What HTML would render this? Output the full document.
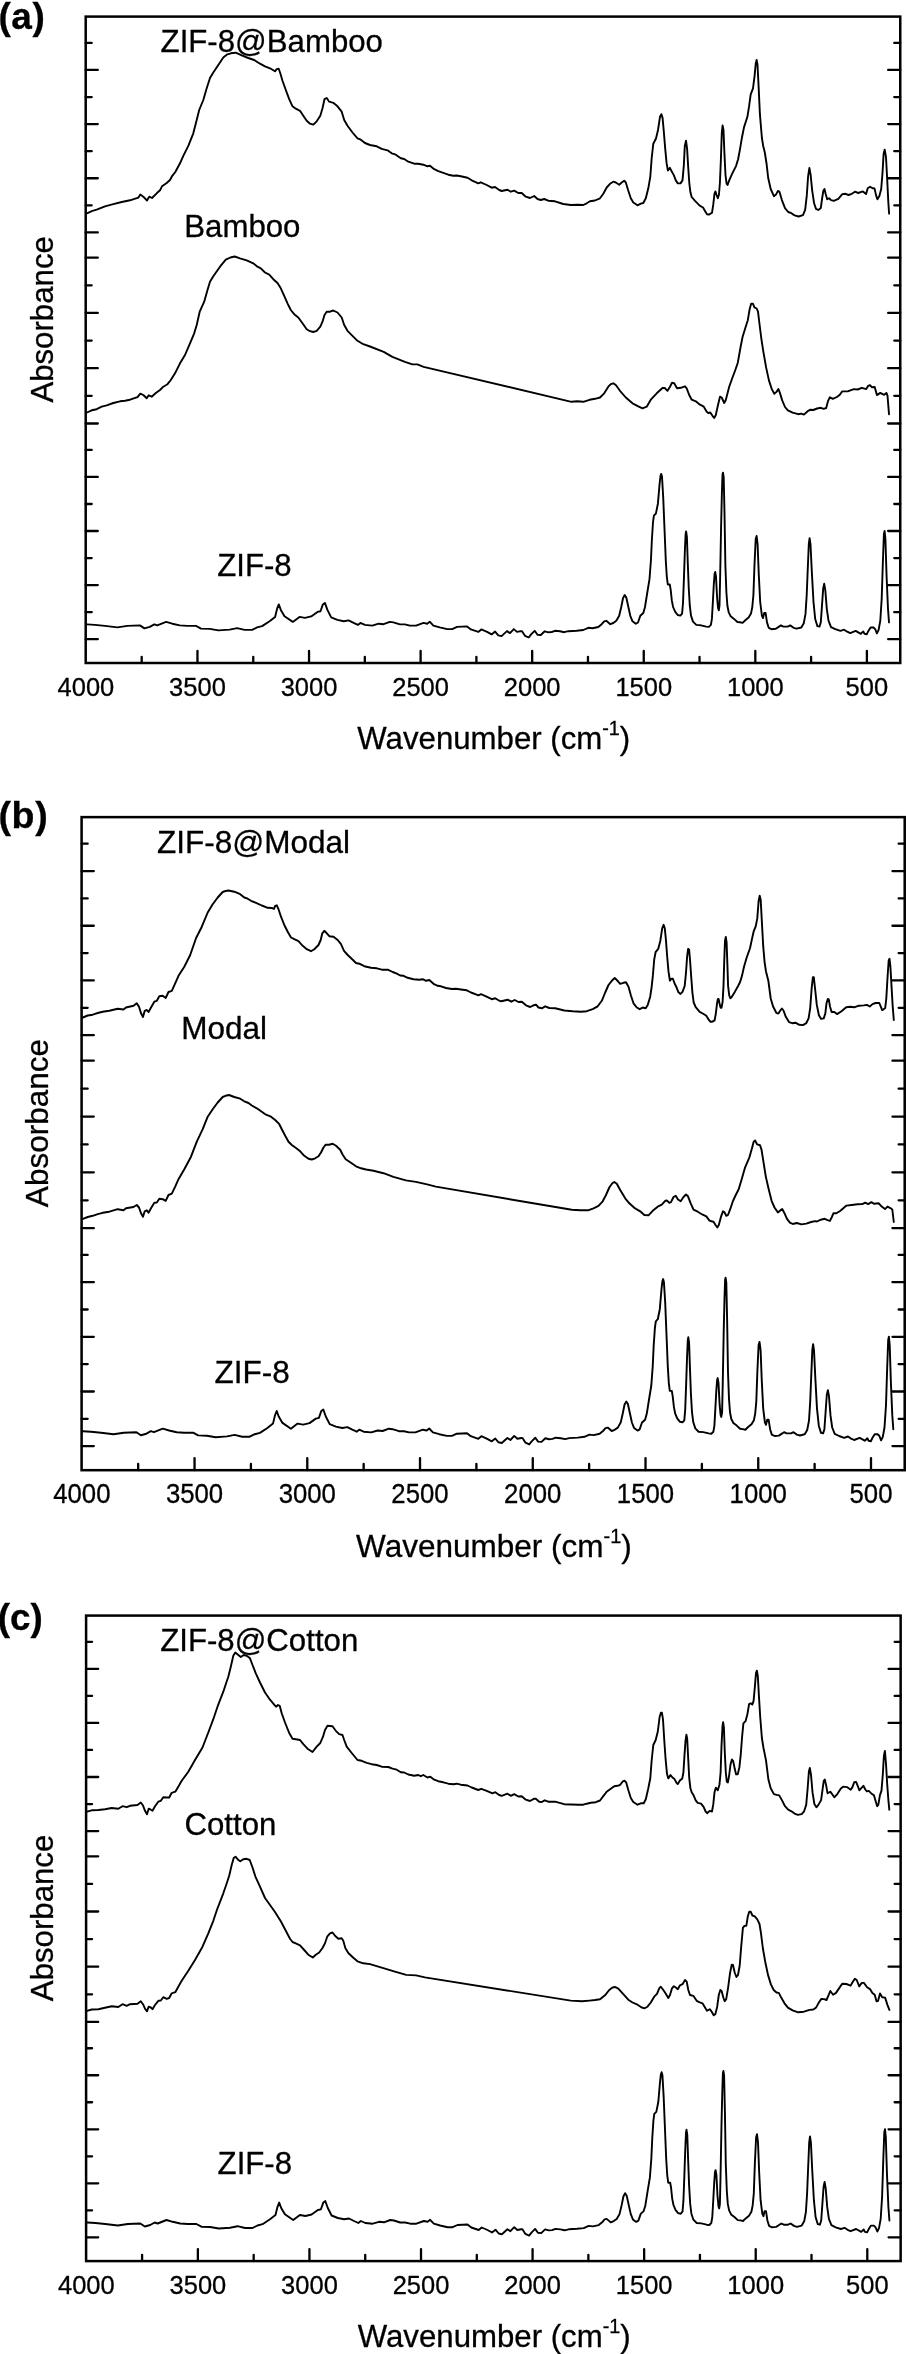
<!DOCTYPE html>
<html lang="en"><head><meta charset="utf-8"><title>FTIR spectra</title>
<style>html,body{margin:0;padding:0;background:#fff}body{width:906px;height:2354px;overflow:hidden}</style></head>
<body>
<svg width="906" height="2354" viewBox="0 0 906 2354" style="display:block;filter:grayscale(1);font-family:'Liberation Sans', Arial, Helvetica, sans-serif" fill="#000">
<rect width="906" height="2354" fill="#fff"/>
<style>text{stroke:#000;stroke-width:0.3px}</style>
<g><rect x="85.70" y="16.60" width="814.55" height="646.40" fill="none" stroke="#000" stroke-width="2.50"/>
<path d="M85.70 42.90h6.00M900.25 42.90h-6.00M85.70 69.97h12.10M900.25 69.97h-12.10M85.70 97.04h6.00M900.25 97.04h-6.00M85.70 124.11h12.10M900.25 124.11h-12.10M85.70 151.18h6.00M900.25 151.18h-6.00M85.70 178.25h12.10M900.25 178.25h-12.10M85.70 205.32h6.00M900.25 205.32h-6.00M85.70 232.39h12.10M900.25 232.39h-12.10M85.70 257.70h12.10M900.25 257.70h-12.10M85.70 285.33h6.00M900.25 285.33h-6.00M85.70 312.96h12.10M900.25 312.96h-12.10M85.70 340.59h6.00M900.25 340.59h-6.00M85.70 368.22h12.10M900.25 368.22h-12.10M85.70 395.85h6.00M900.25 395.85h-6.00M85.70 423.48h12.10M900.25 423.48h-12.10M85.70 449.90h6.00M900.25 449.90h-6.00M85.70 476.94h12.10M900.25 476.94h-12.10M85.70 503.98h6.00M900.25 503.98h-6.00M85.70 531.02h12.10M900.25 531.02h-12.10M85.70 558.06h6.00M900.25 558.06h-6.00M85.70 585.10h12.10M900.25 585.10h-12.10M85.70 612.14h6.00M900.25 612.14h-6.00M85.70 639.18h12.10M900.25 639.18h-12.10M141.69 663.00v-6.20M197.47 663.00v-12.00M253.25 663.00v-6.20M309.04 663.00v-12.00M364.82 663.00v-6.20M420.61 663.00v-12.00M476.39 663.00v-6.20M532.18 663.00v-12.00M587.96 663.00v-6.20M643.75 663.00v-12.00M699.53 663.00v-6.20M755.32 663.00v-12.00M811.10 663.00v-6.20M866.89 663.00v-12.00" stroke="#000" stroke-width="2.30" stroke-linecap="round" fill="none"/>
<text transform="translate(85.90 695.80) scale(1 1.045)" font-size="25.50" text-anchor="middle">4000</text>
<text transform="translate(197.47 695.80) scale(1 1.045)" font-size="25.50" text-anchor="middle">3500</text>
<text transform="translate(309.04 695.80) scale(1 1.045)" font-size="25.50" text-anchor="middle">3000</text>
<text transform="translate(420.61 695.80) scale(1 1.045)" font-size="25.50" text-anchor="middle">2500</text>
<text transform="translate(532.18 695.80) scale(1 1.045)" font-size="25.50" text-anchor="middle">2000</text>
<text transform="translate(643.75 695.80) scale(1 1.045)" font-size="25.50" text-anchor="middle">1500</text>
<text transform="translate(755.32 695.80) scale(1 1.045)" font-size="25.50" text-anchor="middle">1000</text>
<text transform="translate(866.89 695.80) scale(1 1.045)" font-size="25.50" text-anchor="middle">500</text>
<text x="493.80" y="749.00" font-size="31.20" text-anchor="middle">Wavenumber (cm<tspan font-size="19.75" dy="-14.35">-1</tspan><tspan dy="14.35">)</tspan></text>
<text transform="translate(52.80 319.40) rotate(-90)" font-size="31.20" text-anchor="middle">Absorbance</text>
<text x="-1.60" y="29.30" font-size="37.00" font-weight="bold" letter-spacing="0.6">(a)</text>
<text x="160.60" y="52.00" font-size="31.20">ZIF-8@Bamboo</text>
<text x="184.30" y="236.80" font-size="31.20">Bamboo</text>
<text x="217.20" y="576.30" font-size="31.20">ZIF-8</text>
<polyline points="87.0,213.3 91.7,211.2 96.7,209.7 105.0,206.3 113.3,204.2 121.7,202.0 130.0,200.3 138.3,197.7 140.3,194.5 143.3,196.7 147.0,200.5 149.2,196.7 152.0,198.0 156.7,193.3 160.0,190.3 162.0,186.3 166.7,183.0 170.0,180.0 171.7,176.7 175.3,172.0 180.0,163.3 183.3,155.8 188.3,145.8 193.3,133.3 196.7,120.0 199.2,110.0 203.3,100.0 206.7,88.3 210.0,78.0 213.3,72.5 218.3,65.0 223.3,57.5 226.7,54.7 230.8,53.3 235.8,52.7 241.7,55.3 248.3,58.0 254.2,60.0 260.0,63.7 265.0,66.3 270.0,68.3 275.0,71.3 276.7,69.2 278.7,68.7 280.3,73.3 282.5,80.8 285.8,90.0 289.2,99.2 292.5,106.3 295.8,108.7 300.0,110.8 303.3,115.8 306.7,120.8 310.0,123.7 313.3,124.7 316.7,121.3 320.3,115.8 322.5,108.3 324.5,99.2 326.7,98.0 329.2,101.7 333.3,102.8 337.5,106.3 341.7,111.7 344.2,120.0 347.5,125.8 352.5,132.5 357.5,138.3 360.8,139.7 365.0,143.0 370.0,145.0 376.7,146.3 381.7,148.8 387.5,150.3 391.7,153.3 395.0,154.3 400.8,158.3 404.2,159.0 408.3,161.7 414.2,163.7 418.3,163.7 423.3,164.7 427.5,166.3 430.0,165.8 434.2,169.2 438.3,171.2 443.3,172.8 448.3,174.7 453.3,175.8 456.7,175.5 460.8,176.3 467.5,177.7 471.7,180.3 478.3,183.3 480.8,182.3 486.7,185.0 491.7,187.7 495.0,187.0 499.2,190.0 501.7,191.0 507.5,189.7 510.8,191.7 514.2,190.7 518.3,193.0 521.7,193.0 525.8,196.7 530.0,198.0 534.2,196.0 537.5,199.0 540.8,200.0 544.2,199.0 548.3,200.7 555.0,201.3 563.3,204.0 570.8,205.0 577.5,204.8 583.3,205.0 586.7,203.3 590.0,201.3 595.0,200.5 600.0,198.3 603.3,193.7 606.7,187.5 610.0,183.8 613.3,181.7 615.8,182.5 619.2,184.7 621.7,182.5 624.2,180.7 625.8,182.5 628.3,190.8 630.8,198.3 633.3,202.5 637.5,205.3 640.8,203.7 643.3,203.0 645.8,198.3 648.3,188.3 650.3,176.7 651.7,158.0 653.3,143.7 656.0,138.5 658.0,130.0 660.0,116.8 661.4,114.2 662.6,118.1 663.9,132.7 665.2,148.6 666.6,163.2 667.9,170.5 669.9,167.8 671.9,171.8 673.8,175.1 675.8,180.4 677.8,183.4 680.5,183.4 682.5,180.4 683.8,165.8 684.8,146.0 686.0,140.7 687.1,148.6 688.1,165.8 689.3,183.0 690.4,192.3 691.7,197.0 695.0,200.9 699.7,205.6 703.0,207.5 705.0,210.9 707.0,214.2 708.9,214.6 712.0,212.8 713.3,204.2 714.5,193.6 715.4,191.4 716.6,195.0 717.8,198.3 718.9,195.0 719.9,183.0 720.9,159.2 721.8,132.7 722.6,125.4 723.5,130.1 724.4,152.6 725.5,175.1 726.6,183.7 727.6,185.0 729.2,180.4 732.1,173.8 736.1,165.8 738.1,159.2 740.1,148.6 742.1,136.7 744.0,127.4 747.4,116.8 749.1,106.2 750.7,94.3 753.0,88.3 754.6,75.8 755.7,63.8 756.6,59.9 757.5,64.5 758.6,86.4 759.9,114.2 761.9,138.0 763.2,146.0 764.8,152.5 766.6,164.0 768.2,178.0 770.7,189.0 773.9,196.2 776.0,194.6 777.9,190.9 779.5,191.9 781.9,200.1 785.0,208.1 788.2,212.0 791.4,213.2 794.6,215.4 798.6,216.5 803.0,215.2 805.2,209.7 806.8,195.4 808.1,176.3 809.4,168.0 810.6,174.7 812.2,190.6 814.1,203.3 816.0,208.9 818.4,210.0 820.8,208.1 822.1,198.5 823.4,190.6 824.5,189.0 825.6,193.8 827.2,199.3 829.1,198.2 831.1,200.1 833.8,200.9 838.3,198.9 842.3,194.1 845.4,193.8 848.6,195.0 851.8,193.8 855.0,191.7 858.2,193.0 862.9,191.4 866.1,194.1 867.7,188.2 870.1,186.8 872.5,188.2 874.5,188.4 876.1,195.4 877.4,199.3 879.3,196.2 881.2,189.0 882.5,173.1 883.6,154.0 884.7,149.6 886.0,157.2 887.2,179.5 888.3,201.7 889.1,213.6" fill="none" stroke="#000" stroke-width="1.90" stroke-linejoin="round" stroke-linecap="round"/>
<polyline points="87.0,412.5 91.7,410.3 96.7,409.2 101.7,406.7 106.7,405.3 113.3,403.0 120.0,401.3 125.0,400.8 130.0,399.7 137.5,397.2 140.3,393.7 143.3,395.0 146.7,398.3 148.7,395.3 151.7,396.7 155.8,393.0 160.0,390.0 163.3,386.7 167.5,384.2 170.8,380.0 175.0,373.3 180.0,363.3 185.0,355.0 190.0,343.3 194.2,333.3 196.7,325.0 199.7,311.7 204.2,301.7 207.5,290.0 210.0,281.7 213.3,276.3 220.0,266.7 225.8,259.7 230.4,257.5 234.7,256.5 240.0,258.3 246.7,260.3 253.3,263.3 257.5,266.7 260.8,268.3 265.0,272.5 269.2,274.7 273.3,279.2 277.5,283.0 280.8,288.3 284.2,295.8 287.5,303.3 290.8,310.0 294.2,314.2 298.3,317.5 302.5,323.3 306.7,329.2 310.0,331.2 313.3,332.0 316.7,330.8 320.3,326.7 322.5,321.7 324.5,315.0 326.7,311.7 330.0,311.7 333.3,310.5 337.5,312.5 341.7,317.5 344.2,325.0 347.5,330.8 352.5,335.8 357.5,340.8 363.3,344.2 370.0,346.5 383.7,351.9 392.4,356.9 404.9,361.9 412.4,364.4 417.4,364.4 423.6,366.9 571.5,401.8 577.0,401.3 583.3,401.8 589.5,399.8 595.0,398.8 600.0,397.5 604.2,393.3 608.3,386.7 610.8,384.2 613.3,383.3 615.8,385.0 620.0,390.8 625.8,397.5 632.5,403.3 638.3,406.3 642.5,408.3 646.7,406.7 650.8,399.7 656.7,393.3 662.5,388.0 664.7,388.0 667.5,390.8 670.0,386.7 672.0,382.8 674.2,383.3 677.0,388.3 680.8,387.8 685.0,386.3 686.7,388.3 689.2,395.0 691.7,399.7 695.8,401.3 700.0,404.7 703.8,406.7 706.7,411.7 708.3,413.0 710.3,412.5 712.5,415.8 714.2,418.0 715.8,415.0 718.0,405.0 720.0,396.7 721.7,397.5 724.2,403.0 725.8,400.0 729.2,386.7 732.5,377.5 735.5,369.5 737.8,362.7 740.3,348.5 742.5,337.2 745.4,327.8 747.8,320.2 749.7,308.9 751.2,303.6 752.9,303.6 754.4,307.4 756.7,308.5 758.0,311.7 759.5,324.0 761.4,339.1 763.3,351.3 766.1,367.4 769.0,380.6 771.8,389.1 774.3,393.8 776.5,391.9 778.4,389.1 779.9,392.9 782.2,400.4 785.0,407.0 787.9,410.4 792.6,412.7 798.2,414.2 801.1,413.6 803.9,414.6 807.7,411.2 810.5,409.7 813.3,410.0 817.1,408.5 820.9,407.8 823.7,408.9 826.2,408.0 827.9,401.4 829.9,397.2 832.8,398.9 836.9,397.0 839.8,394.8 842.2,391.4 848.3,391.2 853.9,389.1 857.7,389.5 861.8,387.8 866.2,389.1 868.1,385.9 870.0,385.1 871.8,387.2 874.7,387.0 876.9,395.1 880.3,392.9 884.1,394.8 886.4,392.9 887.5,395.7 889.0,414.2" fill="none" stroke="#000" stroke-width="1.90" stroke-linejoin="round" stroke-linecap="round"/>
<polyline points="87.0,624.4 95.0,624.9 104.9,625.9 117.4,627.4 127.4,625.9 139.9,625.4 144.4,628.4 149.8,626.9 154.3,624.4 157.3,625.4 166.1,621.9 172.3,623.7 179.8,625.4 187.3,625.9 196.0,625.9 201.0,628.6 209.7,628.9 218.4,630.4 229.7,629.6 237.1,628.1 244.6,629.9 252.1,629.9 257.1,627.4 262.1,626.1 269.6,621.2 275.1,616.9 277.1,608.7 278.8,604.4 280.8,609.9 284.5,616.2 292.8,621.9 299.5,616.9 305.0,617.9 311.2,616.4 317.5,611.9 320.5,611.2 322.9,604.4 324.9,602.9 327.4,609.9 331.2,617.4 337.4,619.9 343.7,621.2 348.6,620.4 353.6,622.9 357.9,624.9 360.4,622.9 364.9,624.9 372.3,625.6 378.6,623.7 383.6,624.2 389.8,621.9 393.5,622.4 399.8,624.4 404.8,624.4 409.8,625.6 416.0,625.6 423.5,622.9 427.2,623.7 429.7,621.7 433.4,625.6 439.7,627.4 447.2,629.1 452.2,629.1 457.1,626.9 467.1,626.4 470.9,629.4 478.3,631.9 481.3,629.4 487.1,631.9 491.6,634.4 495.1,631.6 498.3,635.4 501.5,636.1 507.0,631.1 510.0,633.1 513.8,629.1 517.0,631.9 520.8,631.1 522.0,631.2 525.0,635.8 528.7,637.5 531.3,634.2 534.7,630.8 537.5,634.7 540.8,635.0 544.7,631.3 548.3,632.3 551.7,632.0 555.0,630.8 560.0,631.3 564.2,632.2 568.3,631.2 576.7,630.7 583.3,630.0 588.3,627.8 592.5,628.3 598.3,627.0 601.7,624.2 604.2,621.3 606.3,620.8 608.3,622.5 610.3,624.2 613.3,623.0 616.3,620.8 619.2,615.8 621.3,606.7 623.0,598.3 624.7,595.0 626.3,597.5 628.3,606.7 630.3,615.8 632.5,621.3 635.8,623.8 638.0,622.5 640.3,615.8 643.3,613.0 645.0,607.0 647.3,592.5 649.5,579.2 650.9,560.7 651.9,539.5 653.0,522.3 653.9,515.6 655.9,513.6 657.9,503.7 659.6,483.8 660.5,475.9 661.2,473.9 662.0,476.6 663.2,497.1 664.5,528.9 665.8,560.7 666.8,576.6 667.8,584.5 669.8,584.5 670.7,589.8 671.8,600.4 673.1,607.0 675.1,611.7 677.7,615.0 680.4,615.6 682.1,613.6 683.0,603.0 684.0,576.6 684.8,552.7 685.6,534.2 686.1,531.5 686.9,536.8 687.7,560.7 688.7,587.2 689.8,605.7 691.0,615.6 693.0,621.6 696.3,624.9 700.9,625.3 706.2,626.6 708.9,626.9 710.9,624.9 711.9,618.9 712.8,603.0 713.8,584.5 714.6,573.9 715.2,571.9 716.0,576.6 717.1,597.7 718.1,608.3 718.8,610.3 719.5,605.7 720.1,579.2 721.1,526.2 721.9,493.1 722.5,474.6 723.0,472.6 723.7,477.2 724.5,513.0 725.4,566.0 726.4,592.5 727.4,605.7 728.7,612.3 730.7,616.3 734.0,618.9 737.4,622.0 740.0,622.3 742.6,622.9 745.3,620.3 748.6,617.6 751.0,613.6 752.3,607.0 753.4,595.2 754.5,564.6 755.7,539.1 756.6,536.0 757.6,544.2 758.8,574.8 760.2,602.0 761.9,615.6 763.0,618.1 764.2,613.0 765.6,613.0 767.0,622.4 768.7,627.8 771.5,629.2 775.8,628.8 778.3,627.1 780.9,625.4 783.4,626.6 787.7,626.6 790.2,625.4 793.6,627.8 796.5,628.7 801.3,627.5 803.8,623.2 805.5,613.9 806.7,595.2 807.8,568.0 808.8,544.2 809.6,538.2 810.5,544.2 811.8,571.4 813.5,602.0 815.2,619.0 817.4,626.1 819.5,626.6 820.8,622.4 822.0,605.4 823.2,588.4 824.2,583.8 825.3,590.1 826.8,608.8 828.5,620.7 831.0,627.1 835.3,629.2 840.4,630.9 844.1,629.7 847.2,631.7 850.2,633.1 855.7,630.9 860.8,633.8 863.3,631.4 864.5,633.8 866.7,634.3 868.4,630.9 870.6,627.5 873.5,627.5 875.2,629.2 876.9,633.4 878.6,630.0 880.3,620.7 881.7,598.6 882.9,561.2 883.9,534.0 884.6,530.9 885.4,539.1 886.6,576.5 888.0,608.8 889.0,622.4" fill="none" stroke="#000" stroke-width="1.90" stroke-linejoin="round" stroke-linecap="round"/></g>
<g><rect x="81.60" y="817.13" width="823.10" height="653.06" fill="none" stroke="#000" stroke-width="2.53"/>
<path d="M81.60 843.70h6.06M904.70 843.70h-6.06M81.60 871.05h12.23M904.70 871.05h-12.23M81.60 898.40h6.06M904.70 898.40h-6.06M81.60 925.75h12.23M904.70 925.75h-12.23M81.60 953.10h6.06M904.70 953.10h-6.06M81.60 980.44h12.23M904.70 980.44h-12.23M81.60 1007.79h6.06M904.70 1007.79h-6.06M81.60 1035.14h12.23M904.70 1035.14h-12.23M81.60 1060.71h12.23M904.70 1060.71h-12.23M81.60 1088.63h6.06M904.70 1088.63h-6.06M81.60 1116.54h12.23M904.70 1116.54h-12.23M81.60 1144.46h6.06M904.70 1144.46h-6.06M81.60 1172.37h12.23M904.70 1172.37h-12.23M81.60 1200.29h6.06M904.70 1200.29h-6.06M81.60 1228.20h12.23M904.70 1228.20h-12.23M81.60 1254.89h6.06M904.70 1254.89h-6.06M81.60 1282.21h12.23M904.70 1282.21h-12.23M81.60 1309.53h6.06M904.70 1309.53h-6.06M81.60 1336.85h12.23M904.70 1336.85h-12.23M81.60 1364.17h6.06M904.70 1364.17h-6.06M81.60 1391.48h12.23M904.70 1391.48h-12.23M81.60 1418.80h6.06M904.70 1418.80h-6.06M81.60 1446.12h12.23M904.70 1446.12h-12.23M138.17 1470.19v-6.26M194.54 1470.19v-12.12M250.91 1470.19v-6.26M307.28 1470.19v-12.12M363.65 1470.19v-6.26M420.02 1470.19v-12.12M476.40 1470.19v-6.26M532.77 1470.19v-12.12M589.14 1470.19v-6.26M645.51 1470.19v-12.12M701.88 1470.19v-6.26M758.25 1470.19v-12.12M814.62 1470.19v-6.26M870.99 1470.19v-12.12" stroke="#000" stroke-width="2.32" stroke-linecap="round" fill="none"/>
<text transform="translate(81.80 1503.32) scale(1 1.045)" font-size="25.77" text-anchor="middle">4000</text>
<text transform="translate(194.54 1503.32) scale(1 1.045)" font-size="25.77" text-anchor="middle">3500</text>
<text transform="translate(307.28 1503.32) scale(1 1.045)" font-size="25.77" text-anchor="middle">3000</text>
<text transform="translate(420.02 1503.32) scale(1 1.045)" font-size="25.77" text-anchor="middle">2500</text>
<text transform="translate(532.77 1503.32) scale(1 1.045)" font-size="25.77" text-anchor="middle">2000</text>
<text transform="translate(645.51 1503.32) scale(1 1.045)" font-size="25.77" text-anchor="middle">1500</text>
<text transform="translate(758.25 1503.32) scale(1 1.045)" font-size="25.77" text-anchor="middle">1000</text>
<text transform="translate(870.99 1503.32) scale(1 1.045)" font-size="25.77" text-anchor="middle">500</text>
<text x="493.98" y="1557.07" font-size="31.53" text-anchor="middle">Wavenumber (cm<tspan font-size="19.96" dy="-14.50">-1</tspan><tspan dy="14.50">)</tspan></text>
<text transform="translate(48.35 1123.05) rotate(-90)" font-size="31.53" text-anchor="middle">Absorbance</text>
<text x="-1.60" y="828.30" font-size="37.60" font-weight="bold" letter-spacing="0.7">(b)</text>
<text x="157.00" y="852.60" font-size="31.53">ZIF-8@Modal</text>
<text x="181.20" y="1039.00" font-size="31.53">Modal</text>
<text x="214.48" y="1382.59" font-size="31.53">ZIF-8</text>
<polyline points="83.0,1017.5 87.7,1015.5 92.7,1014.7 97.7,1013.0 102.7,1011.7 109.3,1010.8 117.7,1008.7 123.5,1009.5 126.0,1007.5 133.5,1005.8 136.8,1003.3 139.0,1006.7 141.0,1013.3 143.0,1017.0 144.7,1010.8 146.8,1010.0 148.5,1012.0 151.0,1007.5 154.3,1001.7 156.8,1000.8 159.3,996.3 162.7,995.8 165.7,998.0 168.5,992.0 171.8,990.8 175.2,983.3 178.5,975.8 184.3,966.7 190.2,955.0 196.0,938.3 201.8,926.7 207.7,912.5 212.7,904.2 217.7,897.5 222.7,892.0 225.5,891.0 228.5,890.5 234.3,891.7 240.2,894.2 244.3,897.5 247.7,898.7 251.0,900.8 256.0,902.8 261.8,905.5 267.7,907.8 271.8,908.0 274.0,908.8 275.2,905.8 276.8,905.3 278.5,909.2 281.0,916.7 284.3,925.0 287.7,931.7 291.0,937.5 294.3,939.2 298.5,941.2 302.7,945.8 306.8,949.2 311.0,951.2 314.3,949.2 318.5,945.0 320.7,940.0 322.3,933.3 324.3,930.8 326.8,933.3 329.3,936.2 333.5,936.7 337.7,940.0 341.0,944.2 344.0,950.8 347.7,955.0 352.7,959.7 356.0,963.0 359.3,963.7 364.3,966.2 371.0,967.8 376.8,968.3 381.8,969.7 387.7,969.7 392.7,972.0 396.8,973.7 400.2,975.5 403.5,975.8 407.7,977.8 413.5,979.2 419.3,979.7 422.7,979.2 426.0,980.8 429.3,980.0 433.5,983.8 437.7,985.8 441.0,986.3 446.0,988.0 451.8,989.0 456.0,988.7 461.0,989.5 466.8,990.3 471.0,992.5 478.5,995.3 481.0,994.2 486.0,996.3 491.8,999.2 495.2,998.3 498.5,1000.3 501.3,1001.3 507.7,999.7 511.3,1001.7 514.7,1000.0 518.5,1002.0 521.8,1001.7 526.0,1005.3 530.2,1007.0 533.5,1005.3 536.0,1004.7 538.5,1007.5 541.8,1008.3 545.2,1006.3 549.3,1008.0 555.2,1008.3 564.3,1010.5 572.7,1011.2 581.0,1011.7 586.8,1011.2 592.7,1009.2 597.7,1006.3 601.8,1000.8 605.2,992.5 608.5,985.0 611.8,980.8 614.7,978.0 616.8,980.0 620.2,983.8 623.5,982.8 626.0,982.2 628.5,986.7 631.0,995.8 633.5,1003.3 636.8,1007.5 639.7,1009.2 642.7,1007.5 645.7,1008.3 647.7,1005.0 650.2,996.7 651.6,987.3 652.9,975.4 654.2,959.5 655.6,952.2 658.2,948.9 660.3,940.9 662.2,928.3 663.6,924.8 664.8,928.3 665.9,939.6 667.2,956.8 668.5,971.4 669.9,980.7 671.5,978.7 672.9,978.7 674.5,983.3 676.5,987.3 678.5,992.3 680.5,993.9 682.5,991.9 684.7,986.0 686.0,972.7 687.1,956.8 688.1,948.9 689.1,949.5 690.0,959.5 691.1,975.4 692.4,992.6 693.7,1002.5 695.7,1007.2 699.7,1011.8 703.6,1014.0 706.3,1015.8 708.3,1019.1 710.3,1021.7 712.3,1021.7 714.6,1020.4 715.8,1013.8 716.9,1004.5 717.8,999.2 718.6,998.9 719.5,1003.2 720.6,1007.8 721.5,1007.8 722.6,1001.9 723.5,986.0 724.2,962.1 725.0,940.9 725.8,937.0 726.6,942.3 727.4,964.8 728.1,986.0 729.2,995.2 730.3,998.3 731.5,997.2 734.8,991.9 738.1,986.0 740.1,982.0 742.1,975.4 744.0,966.8 746.7,957.5 750.0,948.2 752.0,938.9 753.6,931.7 755.7,926.4 757.3,918.4 758.6,901.2 759.7,895.6 760.7,899.9 761.9,922.4 763.2,946.2 764.6,962.1 766.0,971.5 768.4,981.1 770.7,998.5 773.1,1006.5 776.3,1012.8 778.4,1013.6 780.3,1010.5 781.9,1008.6 783.5,1010.5 785.8,1016.8 789.0,1022.1 792.2,1023.2 795.4,1022.7 799.3,1024.8 803.0,1025.1 806.2,1023.2 808.6,1018.4 810.2,1008.1 811.6,989.0 812.9,977.1 813.8,977.1 815.1,989.0 816.8,1004.9 818.9,1015.2 821.1,1018.9 823.7,1018.4 825.3,1013.6 826.5,1003.3 827.8,998.9 828.8,999.3 830.0,1006.5 831.6,1012.0 834.3,1012.0 837.0,1014.1 841.5,1011.3 846.2,1007.3 850.2,1006.8 854.2,1007.3 858.9,1005.7 863.7,1005.4 866.9,1004.9 869.8,1006.5 872.5,1004.1 875.6,1003.0 879.3,1003.0 880.9,1006.8 882.2,1010.1 883.6,1009.3 885.2,1008.1 886.3,998.5 887.6,976.3 888.7,960.4 889.5,958.8 890.4,966.7 891.5,985.8 892.6,1004.9 893.8,1020.0" fill="none" stroke="#000" stroke-width="1.92" stroke-linejoin="round" stroke-linecap="round"/>
<polyline points="83.0,1218.8 87.7,1217.0 92.7,1215.8 97.7,1214.2 102.7,1212.8 109.3,1211.7 117.7,1209.2 123.5,1210.3 126.0,1208.3 133.5,1207.0 136.8,1205.0 139.0,1207.5 141.0,1213.3 143.0,1216.7 144.7,1211.3 146.8,1210.3 148.5,1212.8 151.0,1208.3 154.3,1202.8 156.8,1202.5 159.3,1198.7 162.7,1199.2 165.7,1200.8 168.5,1195.0 171.8,1193.7 175.2,1186.7 178.5,1179.2 184.3,1169.2 191.0,1156.7 196.8,1141.7 202.7,1129.2 207.7,1116.7 212.7,1109.2 217.7,1102.5 222.7,1097.0 225.5,1095.8 229.0,1095.0 234.3,1097.0 240.2,1098.7 244.3,1101.3 248.5,1103.0 251.8,1105.5 256.8,1108.3 261.8,1111.7 266.0,1114.7 271.0,1116.7 275.2,1120.0 279.3,1124.2 281.8,1129.2 285.2,1135.8 288.5,1141.7 291.8,1145.0 296.0,1148.0 300.2,1151.3 304.3,1155.8 308.5,1158.7 311.8,1159.5 315.2,1158.3 318.5,1156.3 321.0,1152.5 323.5,1147.5 325.7,1144.7 329.0,1144.7 332.7,1143.7 336.0,1145.8 340.2,1149.7 342.7,1154.7 345.7,1159.2 350.2,1162.2 356.0,1166.3 361.0,1168.3 366.0,1169.5 373.5,1170.7 383.5,1173.2 393.4,1176.9 405.9,1180.4 415.9,1181.9 427.1,1184.4 435.8,1186.6 571.8,1209.8 580.5,1210.3 588.0,1210.3 593.5,1208.3 598.5,1205.8 602.7,1201.3 606.0,1195.0 609.3,1187.5 612.3,1183.3 614.3,1182.0 616.8,1183.8 620.2,1190.0 625.2,1198.3 629.3,1203.3 634.3,1207.8 640.2,1211.3 644.3,1215.0 648.5,1215.3 652.7,1210.8 657.7,1206.7 661.8,1204.7 665.2,1200.8 666.8,1200.5 669.3,1202.8 671.0,1202.2 673.5,1197.0 675.7,1195.8 678.0,1199.5 680.7,1201.2 683.5,1197.0 686.0,1194.5 688.0,1196.3 690.7,1203.3 693.5,1209.7 697.7,1211.7 702.7,1214.7 706.3,1216.3 709.3,1220.3 711.3,1221.3 713.5,1221.7 715.7,1225.3 717.3,1227.5 718.8,1225.0 721.0,1216.7 723.0,1211.3 724.3,1212.0 726.3,1215.8 728.0,1215.0 730.2,1209.2 732.7,1201.7 735.5,1195.5 738.7,1189.2 741.6,1179.5 744.9,1167.9 749.4,1157.3 751.9,1148.6 753.6,1141.9 755.1,1140.5 757.1,1144.4 760.0,1145.2 761.5,1149.6 763.5,1162.2 765.8,1176.6 768.7,1189.2 771.6,1200.8 774.5,1207.5 777.9,1212.4 780.3,1210.4 782.2,1209.1 784.1,1212.4 787.0,1218.8 789.9,1222.6 792.8,1224.0 796.7,1223.0 801.5,1224.4 806.3,1223.6 811.2,1222.0 815.0,1221.1 817.0,1221.5 820.8,1219.7 824.7,1218.8 827.6,1220.1 829.9,1220.9 831.8,1217.2 833.4,1213.3 836.3,1213.3 840.1,1211.0 843.6,1208.1 846.5,1205.6 851.7,1205.0 857.5,1204.3 862.3,1204.1 865.2,1202.7 868.1,1204.1 871.4,1202.1 873.9,1203.7 878.8,1203.3 881.7,1206.6 885.0,1209.1 887.5,1206.6 890.4,1208.1 892.3,1209.5 893.8,1222.0" fill="none" stroke="#000" stroke-width="1.92" stroke-linejoin="round" stroke-linecap="round"/>
<polyline points="82.9,1431.2 91.0,1431.7 101.0,1432.7 113.6,1434.2 123.7,1432.7 136.4,1432.2 140.9,1435.2 146.4,1433.7 150.9,1431.2 153.9,1432.2 162.8,1428.7 169.1,1430.5 176.7,1432.2 184.3,1432.7 193.1,1432.7 198.1,1435.4 206.9,1435.7 215.7,1437.3 227.1,1436.4 234.6,1434.9 242.2,1436.7 249.7,1436.7 254.8,1434.2 259.9,1432.9 267.4,1428.0 273.0,1423.6 275.0,1415.3 276.7,1411.0 278.7,1416.5 282.5,1422.9 290.9,1428.7 297.6,1423.6 303.2,1424.6 309.5,1423.1 315.8,1418.6 318.9,1417.9 321.3,1411.0 323.3,1409.5 325.8,1416.5 329.7,1424.1 335.9,1426.6 342.3,1428.0 347.3,1427.1 352.3,1429.7 356.7,1431.7 359.2,1429.7 363.7,1431.7 371.2,1432.4 377.6,1430.5 382.6,1431.0 388.9,1428.7 392.6,1429.2 399.0,1431.2 404.0,1431.2 409.1,1432.4 415.4,1432.4 422.9,1429.7 426.7,1430.5 429.2,1428.5 432.9,1432.4 439.3,1434.2 446.9,1435.9 451.9,1435.9 456.9,1433.7 467.0,1433.2 470.8,1436.2 478.3,1438.8 481.4,1436.2 487.2,1438.8 491.8,1441.3 495.3,1438.5 498.5,1442.3 501.8,1443.0 507.3,1438.0 510.4,1440.0 514.2,1435.9 517.4,1438.8 521.3,1438.0 522.5,1438.1 525.5,1442.7 529.2,1444.4 531.9,1441.1 535.3,1437.7 538.1,1441.6 541.5,1441.9 545.4,1438.2 549.1,1439.2 552.5,1438.9 555.8,1437.7 560.9,1438.2 565.1,1439.1 569.3,1438.1 577.8,1437.6 584.4,1436.8 589.5,1434.6 593.7,1435.1 599.6,1433.8 603.0,1431.0 605.5,1428.1 607.7,1427.6 609.7,1429.3 611.7,1431.0 614.7,1429.8 617.8,1427.6 620.7,1422.5 622.8,1413.3 624.5,1404.8 626.3,1401.5 627.9,1404.0 629.9,1413.3 631.9,1422.5 634.1,1428.1 637.5,1430.6 639.7,1429.3 642.0,1422.5 645.1,1419.7 646.8,1413.6 649.1,1399.0 651.3,1385.5 652.7,1366.8 653.7,1345.4 654.9,1328.0 655.8,1321.3 657.8,1319.2 659.8,1309.2 661.5,1289.1 662.4,1281.2 663.1,1279.1 663.9,1281.9 665.2,1302.6 666.5,1334.7 667.8,1366.8 668.8,1382.9 669.8,1390.9 671.8,1390.9 672.7,1396.2 673.9,1406.9 675.2,1413.6 677.2,1418.4 679.8,1421.7 682.5,1422.3 684.3,1420.3 685.2,1409.6 686.2,1382.9 687.0,1358.8 687.8,1340.1 688.3,1337.3 689.1,1342.7 689.9,1366.8 690.9,1393.6 692.0,1412.3 693.3,1422.3 695.3,1428.4 698.6,1431.7 703.3,1432.1 708.6,1433.4 711.3,1433.7 713.4,1431.7 714.4,1425.6 715.3,1409.6 716.3,1390.9 717.1,1380.2 717.7,1378.1 718.5,1382.9 719.6,1404.2 720.6,1414.9 721.3,1416.9 722.1,1412.3 722.7,1385.5 723.7,1332.0 724.5,1298.5 725.1,1279.8 725.6,1277.8 726.3,1282.5 727.1,1318.6 728.0,1372.2 729.0,1399.0 730.0,1412.3 731.3,1419.0 733.4,1423.0 736.7,1425.6 740.1,1428.8 742.8,1429.1 745.4,1429.7 748.1,1427.0 751.5,1424.3 753.9,1420.3 755.2,1413.6 756.3,1401.7 757.4,1370.8 758.6,1345.0 759.5,1341.9 760.6,1350.2 761.8,1381.1 763.2,1408.6 764.9,1422.3 766.0,1424.8 767.2,1419.7 768.6,1419.7 770.1,1429.2 771.8,1434.6 774.6,1436.0 778.9,1435.6 781.5,1433.9 784.1,1432.2 786.6,1433.4 791.0,1433.4 793.5,1432.2 796.9,1434.6 799.9,1435.5 804.7,1434.3 807.2,1430.0 809.0,1420.6 810.2,1401.7 811.3,1374.2 812.3,1350.2 813.1,1344.1 814.0,1350.2 815.3,1377.6 817.0,1408.6 818.8,1425.7 821.0,1432.9 823.1,1433.4 824.4,1429.2 825.6,1412.0 826.8,1394.8 827.9,1390.2 829.0,1396.5 830.5,1415.4 832.2,1427.5 834.7,1433.9 839.1,1436.0 844.2,1437.8 848.0,1436.5 851.1,1438.6 854.1,1440.0 859.7,1437.8 864.8,1440.7 867.4,1438.3 868.6,1440.7 870.8,1441.2 872.5,1437.8 874.7,1434.3 877.7,1434.3 879.4,1436.0 881.1,1440.3 882.8,1436.8 884.5,1427.5 886.0,1405.1 887.2,1367.3 888.2,1339.9 888.9,1336.7 889.7,1345.0 890.9,1382.8 892.3,1415.4 893.3,1429.2" fill="none" stroke="#000" stroke-width="1.92" stroke-linejoin="round" stroke-linecap="round"/></g>
<g><rect x="86.10" y="1615.58" width="814.55" height="645.50" fill="none" stroke="#000" stroke-width="2.50"/>
<path d="M86.10 1641.84h6.00M900.65 1641.84h-6.00M86.10 1668.87h12.10M900.65 1668.87h-12.10M86.10 1695.90h6.00M900.65 1695.90h-6.00M86.10 1722.94h12.10M900.65 1722.94h-12.10M86.10 1749.97h6.00M900.65 1749.97h-6.00M86.10 1777.00h12.10M900.65 1777.00h-12.10M86.10 1804.03h6.00M900.65 1804.03h-6.00M86.10 1831.06h12.10M900.65 1831.06h-12.10M86.10 1856.34h12.10M900.65 1856.34h-12.10M86.10 1883.93h6.00M900.65 1883.93h-6.00M86.10 1911.52h12.10M900.65 1911.52h-12.10M86.10 1939.11h6.00M900.65 1939.11h-6.00M86.10 1966.70h12.10M900.65 1966.70h-12.10M86.10 1994.30h6.00M900.65 1994.30h-6.00M86.10 2021.89h12.10M900.65 2021.89h-12.10M86.10 2048.27h6.00M900.65 2048.27h-6.00M86.10 2075.27h12.10M900.65 2075.27h-12.10M86.10 2102.27h6.00M900.65 2102.27h-6.00M86.10 2129.28h12.10M900.65 2129.28h-12.10M86.10 2156.28h6.00M900.65 2156.28h-6.00M86.10 2183.28h12.10M900.65 2183.28h-12.10M86.10 2210.28h6.00M900.65 2210.28h-6.00M86.10 2237.29h12.10M900.65 2237.29h-12.10M142.09 2261.07v-6.20M197.87 2261.07v-12.00M253.66 2261.07v-6.20M309.44 2261.07v-12.00M365.22 2261.07v-6.20M421.01 2261.07v-12.00M476.80 2261.07v-6.20M532.58 2261.07v-12.00M588.37 2261.07v-6.20M644.15 2261.07v-12.00M699.93 2261.07v-6.20M755.72 2261.07v-12.00M811.50 2261.07v-6.20M867.29 2261.07v-12.00" stroke="#000" stroke-width="2.30" stroke-linecap="round" fill="none"/>
<text transform="translate(86.30 2293.83) scale(1 1.045)" font-size="25.50" text-anchor="middle">4000</text>
<text transform="translate(197.87 2293.83) scale(1 1.045)" font-size="25.50" text-anchor="middle">3500</text>
<text transform="translate(309.44 2293.83) scale(1 1.045)" font-size="25.50" text-anchor="middle">3000</text>
<text transform="translate(421.01 2293.83) scale(1 1.045)" font-size="25.50" text-anchor="middle">2500</text>
<text transform="translate(532.58 2293.83) scale(1 1.045)" font-size="25.50" text-anchor="middle">2000</text>
<text transform="translate(644.15 2293.83) scale(1 1.045)" font-size="25.50" text-anchor="middle">1500</text>
<text transform="translate(755.72 2293.83) scale(1 1.045)" font-size="25.50" text-anchor="middle">1000</text>
<text transform="translate(867.29 2293.83) scale(1 1.045)" font-size="25.50" text-anchor="middle">500</text>
<text x="494.20" y="2346.95" font-size="31.20" text-anchor="middle">Wavenumber (cm<tspan font-size="19.75" dy="-14.35">-1</tspan><tspan dy="14.35">)</tspan></text>
<text transform="translate(53.20 1917.95) rotate(-90)" font-size="31.20" text-anchor="middle">Absorbance</text>
<text x="-2.20" y="1629.50" font-size="36.80" font-weight="bold" >(c)</text>
<text x="160.20" y="1650.80" font-size="31.20">ZIF-8@Cotton</text>
<text x="184.50" y="1835.30" font-size="31.20">Cotton</text>
<text x="217.60" y="2174.49" font-size="31.20">ZIF-8</text>
<polyline points="87.0,1811.7 91.7,1810.3 98.3,1810.0 105.0,1809.2 111.7,1808.0 118.3,1808.8 122.5,1806.2 126.7,1807.2 130.0,1805.8 137.5,1805.0 140.8,1802.5 143.0,1805.5 145.0,1810.8 147.0,1814.2 148.7,1808.7 150.8,1809.7 152.5,1810.8 155.0,1806.2 158.3,1801.7 160.8,1800.8 163.3,1797.2 166.7,1797.5 169.2,1797.5 171.7,1792.8 175.3,1791.7 178.3,1786.7 181.7,1780.8 188.3,1771.7 195.0,1760.0 202.5,1747.5 208.3,1732.5 213.3,1719.2 217.5,1706.7 223.3,1691.7 226.5,1682.0 228.3,1676.7 230.8,1666.7 233.3,1655.8 235.3,1652.5 238.0,1654.7 240.8,1657.0 243.7,1655.0 246.7,1655.8 250.0,1658.3 252.5,1665.0 255.8,1673.3 260.0,1682.5 265.0,1692.5 270.0,1699.7 274.2,1704.7 276.3,1706.7 278.0,1705.0 279.7,1705.8 281.7,1713.3 285.0,1722.5 289.2,1733.0 292.5,1738.7 295.8,1739.2 300.0,1740.0 303.3,1744.2 307.5,1748.7 312.5,1752.0 316.7,1746.7 320.3,1743.0 323.0,1736.7 325.0,1730.0 327.5,1725.8 332.5,1726.3 335.8,1730.8 339.2,1734.2 342.5,1735.0 344.2,1740.0 346.7,1746.7 351.7,1753.0 357.5,1760.0 361.7,1760.8 366.7,1762.8 371.7,1764.2 376.7,1765.0 381.7,1766.7 388.3,1767.0 392.5,1768.7 396.7,1769.7 400.8,1772.2 404.2,1772.5 408.3,1774.5 414.2,1775.8 418.3,1775.0 420.8,1776.2 423.3,1775.0 427.5,1777.5 430.3,1776.7 434.2,1779.7 438.3,1781.2 443.3,1782.3 448.3,1783.7 453.3,1784.2 456.7,1783.7 460.8,1784.7 467.5,1785.5 471.7,1787.5 478.3,1790.0 481.3,1788.8 486.7,1790.8 492.5,1793.3 495.3,1792.2 499.2,1795.0 501.7,1795.8 507.5,1793.7 510.8,1795.8 514.2,1794.2 518.3,1796.5 521.7,1796.2 525.8,1799.7 530.0,1801.0 534.2,1798.7 535.8,1798.7 539.2,1801.7 541.7,1802.0 544.7,1800.3 548.3,1801.7 555.0,1801.7 564.2,1804.2 571.7,1804.5 578.3,1804.7 583.3,1804.7 586.7,1803.7 590.8,1802.8 595.8,1802.2 600.0,1800.5 603.3,1796.2 606.7,1791.7 610.8,1788.7 614.2,1786.2 617.5,1785.8 620.0,1785.0 622.5,1781.7 624.5,1780.7 626.2,1782.5 628.3,1790.0 630.8,1798.0 633.3,1802.0 637.5,1804.7 640.8,1803.3 643.7,1803.3 645.8,1799.2 648.3,1788.3 650.3,1778.3 651.6,1761.0 653.3,1745.0 655.7,1740.0 657.8,1731.5 659.6,1717.0 660.9,1712.8 661.9,1712.6 663.0,1719.5 664.3,1740.7 665.6,1759.2 667.0,1773.8 668.3,1778.4 670.5,1775.1 672.5,1777.5 674.5,1779.1 676.5,1782.8 677.8,1784.1 680.2,1780.1 682.2,1778.8 683.4,1772.5 684.4,1756.6 685.5,1740.7 686.4,1734.7 687.2,1738.7 688.1,1756.6 689.2,1777.7 690.4,1788.3 691.7,1792.3 693.7,1795.6 695.7,1800.3 697.7,1802.9 701.0,1803.6 703.6,1806.9 705.6,1811.5 707.2,1813.2 709.6,1810.9 712.0,1811.5 713.3,1804.2 714.5,1792.3 715.8,1787.7 717.8,1790.3 719.5,1784.4 720.6,1772.5 721.5,1746.0 722.5,1726.1 723.1,1722.1 723.9,1727.4 724.8,1752.6 725.8,1772.5 726.8,1781.7 727.9,1782.4 729.2,1775.1 730.5,1764.5 731.9,1759.5 733.2,1761.2 734.8,1769.1 736.1,1774.4 737.7,1774.4 739.4,1767.2 740.7,1755.2 742.1,1736.7 743.4,1723.4 745.6,1721.1 747.4,1714.2 749.1,1704.2 750.7,1703.3 752.3,1704.6 753.6,1700.9 754.9,1686.4 756.0,1673.1 756.9,1670.7 757.8,1675.8 758.9,1695.6 760.2,1716.8 761.9,1738.0 763.4,1747.5 766.0,1760.4 768.4,1779.5 770.7,1788.2 773.9,1794.1 776.6,1794.9 779.2,1795.4 781.9,1800.1 785.0,1806.2 788.2,1809.7 791.4,1811.3 794.6,1813.6 797.8,1814.9 801.7,1814.1 804.1,1811.3 806.2,1804.9 807.6,1789.0 808.9,1771.5 809.8,1768.0 811.0,1774.7 812.5,1792.2 814.4,1804.1 816.4,1807.3 818.4,1804.9 821.1,1800.1 822.4,1790.6 823.7,1781.1 824.8,1779.5 825.9,1784.2 827.6,1793.3 830.3,1791.7 831.9,1793.8 834.3,1797.3 837.5,1793.8 840.7,1788.7 843.1,1786.6 847.0,1787.1 850.7,1789.8 852.3,1787.4 854.2,1782.3 856.1,1781.9 857.7,1785.8 859.3,1790.3 861.3,1788.2 863.4,1785.8 865.3,1789.5 866.9,1791.4 868.8,1790.9 871.7,1793.8 874.0,1795.4 875.6,1800.9 877.2,1806.2 878.3,1804.9 879.9,1795.4 881.5,1790.6 882.8,1774.7 883.9,1755.6 884.9,1750.9 886.0,1763.6 887.2,1784.2 888.4,1800.1 889.3,1809.7" fill="none" stroke="#000" stroke-width="1.90" stroke-linejoin="round" stroke-linecap="round"/>
<polyline points="87.0,2010.8 91.7,2009.5 98.3,2009.2 105.0,2007.8 111.7,2006.3 118.3,2007.0 122.5,2004.2 126.7,2005.8 130.0,2004.2 137.5,2003.7 140.8,2001.3 143.0,2004.2 145.0,2008.7 147.0,2011.3 148.7,2006.7 150.8,2007.5 152.5,2009.2 155.0,2005.0 158.3,2000.8 160.8,2000.5 163.3,1997.2 166.7,1998.8 169.2,1998.0 171.7,1993.3 175.3,1992.2 178.3,1986.7 181.7,1980.8 188.3,1970.8 195.0,1960.0 202.5,1946.7 208.3,1933.3 213.3,1920.8 217.5,1908.3 223.3,1893.3 226.5,1884.0 229.2,1875.8 231.7,1865.0 233.7,1858.0 235.5,1856.7 238.0,1859.7 240.3,1861.3 243.3,1859.2 246.7,1858.8 249.7,1860.0 252.5,1867.5 255.3,1876.3 260.0,1886.7 265.0,1898.0 270.0,1905.0 275.0,1912.0 280.8,1921.2 285.8,1930.8 290.0,1938.7 292.5,1942.0 295.8,1943.3 300.0,1945.3 304.2,1950.0 308.3,1954.7 312.8,1957.5 315.8,1954.7 319.2,1952.5 322.5,1948.0 325.0,1943.3 327.2,1936.7 330.0,1933.3 332.5,1932.5 335.0,1935.8 338.3,1938.7 341.7,1938.3 343.3,1940.8 345.3,1948.0 348.3,1953.0 353.3,1957.8 357.5,1961.3 363.3,1963.3 370.0,1964.1 382.5,1967.9 394.9,1971.7 406.2,1974.9 416.1,1975.4 424.9,1977.4 570.8,2000.6 582.0,2001.3 589.5,2000.6 595.0,2000.0 600.0,1999.2 605.0,1995.3 609.2,1990.0 612.5,1987.5 615.3,1987.0 618.3,1988.7 623.3,1994.2 628.3,1999.7 632.5,2002.5 637.5,2004.7 641.7,2007.5 644.7,2008.3 647.5,2006.7 650.8,2002.5 654.2,1996.7 657.0,1993.8 659.2,1988.3 660.8,1986.7 663.3,1990.0 665.8,1993.7 668.3,1998.0 670.0,1995.0 672.0,1988.3 673.8,1986.2 675.8,1987.5 677.8,1989.2 680.0,1985.3 682.5,1984.2 685.0,1980.0 686.7,1981.7 688.3,1990.0 690.0,1995.0 693.3,1995.8 696.7,2000.8 699.2,2002.2 702.5,2003.3 705.0,2007.5 707.0,2010.8 709.7,2009.2 711.7,2011.7 713.7,2015.3 715.3,2014.2 717.2,2006.7 718.8,1995.0 720.3,1990.0 721.7,1991.3 723.3,1997.5 724.7,2001.2 726.2,1999.2 728.0,1988.3 730.0,1973.3 731.7,1964.7 733.0,1965.0 734.7,1972.5 736.4,1977.0 738.0,1975.0 739.7,1965.5 741.2,1946.6 742.9,1927.8 744.4,1925.9 746.3,1925.9 747.8,1916.4 749.2,1911.7 750.7,1911.7 752.4,1915.5 754.8,1916.4 757.3,1919.3 759.5,1924.0 761.0,1933.4 762.9,1948.5 765.2,1961.7 768.0,1974.9 770.9,1984.4 773.7,1990.0 776.5,1992.5 778.8,1992.9 781.2,1997.6 784.5,2003.3 787.9,2007.6 792.6,2010.4 798.2,2012.3 803.9,2011.7 809.6,2009.9 813.3,2009.5 816.2,2007.4 819.0,2002.3 821.4,1998.9 824.1,1999.1 826.5,2000.0 828.4,1995.7 830.3,1991.0 833.1,1994.8 836.0,1992.9 839.2,1988.1 842.2,1983.8 846.4,1984.0 850.5,1985.7 853.0,1981.5 854.9,1978.7 856.7,1980.0 859.2,1986.3 861.8,1982.9 863.9,1982.9 867.1,1987.2 870.0,1989.1 872.4,1992.9 874.7,1994.8 876.6,2001.4 878.1,2000.8 880.0,1993.4 882.2,1997.2 885.1,1997.6 887.5,2005.1 889.4,2009.9" fill="none" stroke="#000" stroke-width="1.90" stroke-linejoin="round" stroke-linecap="round"/>
<polyline points="87.4,2222.5 95.4,2223.0 105.3,2224.0 117.8,2225.5 127.8,2224.0 140.3,2223.5 144.8,2226.5 150.2,2225.0 154.7,2222.5 157.7,2223.5 166.5,2220.0 172.7,2221.8 180.2,2223.5 187.7,2224.0 196.4,2224.0 201.4,2226.7 210.1,2227.0 218.8,2228.5 230.1,2227.7 237.5,2226.2 245.0,2228.0 252.5,2228.0 257.5,2225.5 262.5,2224.2 270.0,2219.3 275.5,2215.0 277.5,2206.8 279.2,2202.6 281.2,2208.0 284.9,2214.3 293.2,2220.0 299.9,2215.0 305.4,2216.0 311.6,2214.5 317.9,2210.0 320.9,2209.3 323.3,2202.6 325.3,2201.1 327.8,2208.0 331.6,2215.5 337.8,2218.0 344.1,2219.3 349.0,2218.5 354.0,2221.0 358.3,2223.0 360.8,2221.0 365.3,2223.0 372.7,2223.7 379.0,2221.8 384.0,2222.3 390.2,2220.0 393.9,2220.5 400.2,2222.5 405.2,2222.5 410.2,2223.7 416.4,2223.7 423.9,2221.0 427.6,2221.8 430.1,2219.8 433.8,2223.7 440.1,2225.5 447.6,2227.2 452.6,2227.2 457.5,2225.0 467.5,2224.5 471.3,2227.5 478.7,2230.0 481.7,2227.5 487.5,2230.0 492.0,2232.5 495.5,2229.7 498.7,2233.5 501.9,2234.2 507.4,2229.2 510.4,2231.2 514.2,2227.2 517.4,2230.0 521.2,2229.2 522.4,2229.3 525.4,2233.9 529.1,2235.6 531.7,2232.3 535.1,2228.9 537.9,2232.8 541.2,2233.1 545.1,2229.4 548.7,2230.4 552.1,2230.1 555.4,2228.9 560.4,2229.4 564.6,2230.3 568.7,2229.3 577.1,2228.8 583.7,2228.1 588.7,2225.9 592.9,2226.4 598.7,2225.1 602.1,2222.3 604.6,2219.4 606.7,2218.9 608.7,2220.6 610.7,2222.3 613.7,2221.1 616.7,2218.9 619.6,2213.9 621.7,2204.9 623.4,2196.5 625.1,2193.2 626.7,2195.7 628.7,2204.9 630.7,2213.9 632.9,2219.4 636.2,2221.9 638.4,2220.6 640.7,2213.9 643.7,2211.1 645.4,2205.2 647.7,2190.7 649.9,2177.4 651.3,2158.9 652.3,2137.7 653.4,2120.6 654.3,2113.9 656.3,2111.9 658.3,2102.0 660.0,2082.1 660.9,2074.2 661.6,2072.2 662.4,2074.9 663.6,2095.4 664.9,2127.2 666.2,2158.9 667.2,2174.8 668.2,2182.7 670.2,2182.7 671.1,2188.0 672.2,2198.6 673.5,2205.2 675.5,2209.8 678.1,2213.1 680.8,2213.7 682.5,2211.7 683.4,2201.2 684.4,2174.8 685.2,2150.9 686.0,2132.5 686.5,2129.8 687.3,2135.0 688.1,2158.9 689.1,2185.4 690.2,2203.9 691.4,2213.7 693.4,2219.7 696.7,2223.0 701.3,2223.4 706.6,2224.7 709.3,2225.0 711.3,2223.0 712.3,2217.0 713.2,2201.2 714.2,2182.7 715.0,2172.1 715.6,2170.1 716.4,2174.8 717.5,2195.9 718.5,2206.4 719.2,2208.4 719.9,2203.9 720.5,2177.4 721.5,2124.5 722.3,2091.4 722.9,2072.9 723.4,2070.9 724.1,2075.5 724.9,2111.3 725.8,2164.2 726.8,2190.7 727.8,2203.9 729.1,2210.4 731.1,2214.4 734.4,2217.0 737.8,2220.1 740.4,2220.4 743.0,2221.0 745.7,2218.4 749.0,2215.7 751.4,2211.7 752.7,2205.2 753.8,2193.4 754.9,2162.8 756.1,2137.3 757.0,2134.2 758.0,2142.4 759.2,2173.0 760.6,2200.2 762.3,2213.7 763.4,2216.2 764.6,2211.1 766.0,2211.1 767.4,2220.5 769.1,2225.9 771.9,2227.3 776.2,2226.9 778.7,2225.2 781.3,2223.5 783.8,2224.7 788.1,2224.7 790.6,2223.5 794.0,2225.9 796.9,2226.8 801.7,2225.6 804.2,2221.3 805.9,2212.0 807.1,2193.4 808.2,2166.2 809.2,2142.4 810.0,2136.4 810.9,2142.4 812.2,2169.6 813.9,2200.2 815.6,2217.1 817.8,2224.2 819.9,2224.7 821.2,2220.5 822.4,2203.6 823.6,2186.6 824.6,2182.0 825.7,2188.3 827.2,2206.9 828.9,2218.8 831.4,2225.2 835.7,2227.3 840.8,2229.0 844.5,2227.8 847.6,2229.8 850.6,2231.2 856.1,2229.0 861.2,2231.9 863.7,2229.5 864.9,2231.9 867.1,2232.4 868.8,2229.0 871.0,2225.6 873.9,2225.6 875.6,2227.3 877.3,2231.5 879.0,2228.1 880.7,2218.8 882.1,2196.8 883.3,2159.4 884.3,2132.3 885.0,2129.2 885.8,2137.3 887.0,2174.7 888.4,2206.9 889.4,2220.5" fill="none" stroke="#000" stroke-width="1.90" stroke-linejoin="round" stroke-linecap="round"/></g>
</svg>
</body></html>
